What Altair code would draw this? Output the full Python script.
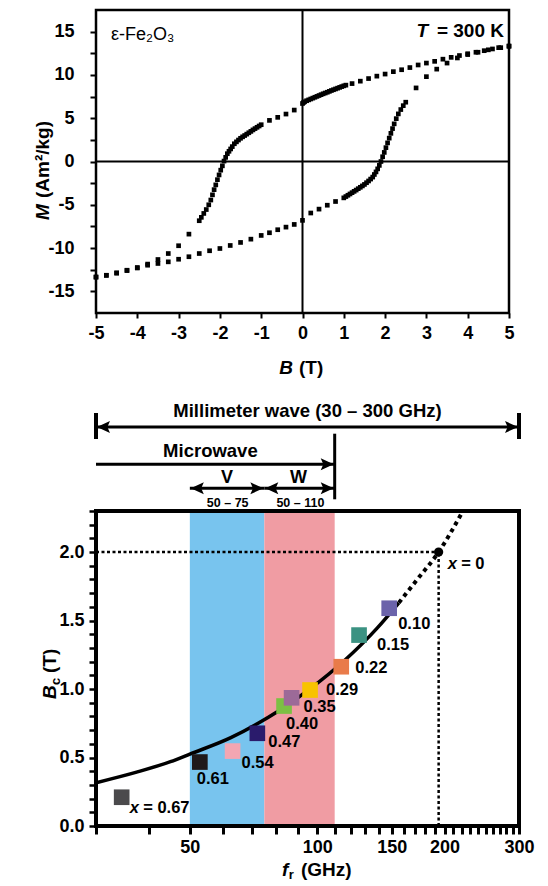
import altair as alt
import pandas as pd

FONT = "Liberation Sans"

# ---------------- top panel: hysteresis loop (B in T, M in Am2/kg) ----------------
# upper branch, field decreasing from +5 T to -5 T
UP_HI_B = [5.0, 4.8, 4.6, 4.4, 4.2, 4.0, 3.8, 3.6, 3.4, 3.2, 3.0, 2.8, 2.6, 2.4, 2.2, 2.0, 1.8, 1.6, 1.4, 1.2]
UP_HI_M = [13.3, 13.15, 13.0, 12.8, 12.62, 12.45, 12.24, 12.03, 11.82, 11.57, 11.37, 11.15, 10.85, 10.6,
           10.38, 10.1, 9.86, 9.58, 9.28, 9.0]
UP_MID_B = [1.05, 1.0, 0.95, 0.9, 0.85, 0.8, 0.75, 0.7, 0.65, 0.6, 0.55, 0.5, 0.45, 0.4, 0.35, 0.3, 0.25,
            0.2, 0.15, 0.1, 0.05, 0.02, 0.0, -0.2, -0.4, -0.6, -0.8]
UP_MID_M = [8.82, 8.74, 8.65, 8.56, 8.47, 8.38, 8.29, 8.2, 8.1, 8.0, 7.91, 7.82, 7.72, 7.62, 7.52, 7.42, 7.32,
            7.22, 7.12, 7.02, 6.9, 6.8, 6.7, 5.94, 5.48, 5.1, 4.75]
UP_SW_B = [-1.00, -1.05, -1.10, -1.15, -1.20, -1.25, -1.30, -1.35, -1.40, -1.45, -1.50, -1.55, -1.60, -1.65,
           -1.70, -1.74, -1.78, -1.82, -1.86, -1.90, -1.94, -1.98, -2.02, -2.06, -2.10, -2.14, -2.18, -2.22,
           -2.27, -2.33, -2.39, -2.45, -2.50]
UP_SW_M = [4.25, 4.10, 3.95, 3.80, 3.65, 3.48, 3.32, 3.16, 3.00, 2.85, 2.68, 2.48, 2.27, 2.05, 1.72, 1.45,
           1.18, 0.90, 0.48, 0.05, -0.50, -1.00, -1.55, -2.10, -2.70, -3.25, -3.85, -4.45, -5.00, -5.55,
           -6.00, -6.45, -6.84]
UP_LO_B = [-2.75, -3.0, -3.25, -3.5, -3.75, -4.0, -4.25, -4.5, -4.75, -5.0]
UP_LO_M = [-8.39, -9.73, -10.63, -11.32, -11.85, -12.3, -12.6, -12.9, -13.15, -13.35]

# lower branch, field increasing from -5 T to +5 T
LO_LO_B = [-5.0, -4.75, -4.5, -4.25, -4.0, -3.75, -3.5, -3.25, -3.0, -2.75, -2.5, -2.25, -2.0, -1.75, -1.5,
           -1.25, -1.0, -0.8, -0.6, -0.4, -0.2, 0.0, 0.2, 0.4, 0.6, 0.8]
LO_LO_M = [-13.35, -13.14, -12.86, -12.56, -12.25, -11.98, -11.78, -11.59, -11.29, -11.0, -10.63, -10.31,
           -10.05, -9.7, -9.35, -8.97, -8.54, -8.23, -7.88, -7.58, -7.27, -6.8, -5.95, -5.5, -5.05, -4.62]
LO_SW_B = [1.00, 1.05, 1.10, 1.15, 1.20, 1.25, 1.30, 1.35, 1.40, 1.45, 1.50, 1.55, 1.60, 1.65, 1.70, 1.74,
           1.78, 1.82, 1.86, 1.90, 1.94, 1.98, 2.02, 2.06, 2.10, 2.14, 2.18, 2.22, 2.27, 2.32, 2.38, 2.44, 2.50]
LO_SW_M = [-4.20, -4.05, -3.90, -3.75, -3.60, -3.45, -3.30, -3.14, -2.98, -2.82, -2.65, -2.45, -2.25, -2.03,
           -1.80, -1.50, -1.20, -0.85, -0.45, 0.00, 0.55, 1.05, 1.60, 2.15, 2.70, 3.25, 3.80, 4.35, 4.95,
           5.50, 6.00, 6.45, 6.85]
LO_HI_B = [2.75, 3.0, 3.25, 3.5, 3.75, 4.0, 4.25, 4.5, 4.75, 5.0]
LO_HI_M = [8.5, 9.8, 10.67, 11.37, 11.96, 12.35, 12.62, 12.9, 13.15, 13.35]

TOP_X_TICKS = [-5, -4, -3, -2, -1, 0, 1, 2, 3, 4, 5]
TOP_Y_TICKS = [-15, -12.5, -10, -7.5, -5, -2.5, 0, 2.5, 5, 7.5, 10, 12.5, 15]

# ---------------- bottom panel: coercive field vs resonance frequency ----------------
X_LABELS = ["x = 0.67", "0.61", "0.54", "0.47", "0.40", "0.35", "0.29", "0.22", "0.15", "0.10"]
SQ_F = [34.5, 52.8, 63.1, 72.2, 83.5, 87.0, 96.2, 114.0, 125.6, 148.0]
SQ_BC = [0.21, 0.467, 0.547, 0.677, 0.876, 0.936, 0.993, 1.163, 1.394, 1.59]
SQ_COLORS = ["#4b4a4c", "#1f1a1b", "#f3a6b2", "#2a1b6c", "#7cc043", "#9c6a98", "#f8c300", "#e97b4a",
             "#3b9282", "#6b63aa"]
X0_F, X0_BC = 193.7, 2.0      # x = 0 (pure epsilon-Fe2O3)

CURVE_F = [30, 37.6, 45, 50, 62.5, 72, 81, 96.5, 115.7, 138.6, 156]
CURVE_BC = [0.316, 0.395, 0.47, 0.525, 0.645, 0.745, 0.84, 1.005, 1.205, 1.445, 1.63]
EXTRA_F = [156, 172.4, 193.7, 221]
EXTRA_BC = [1.63, 1.8, 2.0, 2.3]

BAND_NAMES = ["V", "W"]
BAND_LO = [50, 75]
BAND_HI = [75, 110]
BAND_RANGE_TEXT = ["50 – 75", "50 – 110"]
BAND_COLORS = ["#78c4ee", "#f09ca3"]
MM_WAVE = [30, 300]
MICROWAVE = [30, 110]

BOT_X_TICKS = [30, 40, 50, 60, 70, 80, 90, 100, 110, 120, 130, 140, 150, 160, 170, 180, 190, 200,
               210, 220, 230, 240, 250, 260, 270, 280, 290, 300]
BOT_X_LABELED = [50, 100, 150, 200, 300]
BOT_Y_TICKS = [round(0.1 * i, 1) for i in range(24)]

# label placement (pixels, relative to marker centre)
LAB_DX = [21.5, -3, 9, 11, 2, 12, 16, 14, 18, 9]
LAB_DY = [11, 17, 12, 9, 18, 9, 0, 1, 10, 16]

W1, H1 = 413, 303
W2, H2 = 423, 315
ONE = pd.DataFrame({"a": [0]})


def ptext(txt, x, y, size, weight="bold", style="normal", align="center", angle=0):
    return alt.Chart(ONE).mark_text(
        text=txt, font=FONT, fontSize=size, fontWeight=weight, fontStyle=style,
        align=align, baseline="middle", angle=angle, color="black"
    ).encode(x=alt.value(x), y=alt.value(y))


def frame(w, h, sw):
    return alt.Chart(ONE).mark_rect(fillOpacity=0, stroke="black", strokeWidth=sw).encode(
        x=alt.value(0), x2=alt.value(w), y=alt.value(0), y2=alt.value(h))


# ---------------- top chart ----------------
xs1 = alt.Scale(domain=[-5, 5], nice=False, zero=False)
ys1 = alt.Scale(domain=[-17.5, 17.5], nice=False, zero=False)
xa1 = alt.Axis(values=TOP_X_TICKS, labelExpr="'' + datum.value", title=None, domain=False, grid=False,
               tickColor="black", tickWidth=2, tickSize=5, labelPadding=6, labelFont=FONT,
               labelFontSize=18, labelFontWeight="bold", labelColor="black", labelFlush=False,
               labelOverlap=False)
ya1 = alt.Axis(values=TOP_Y_TICKS, labelExpr="datum.value % 5 == 0 ? '' + datum.value : ''", title=None,
               domain=False, grid=False, tickColor="black", tickWidth=2, tickSize=6, labelPadding=16,
               labelFont=FONT, labelFontSize=18, labelFontWeight="bold", labelColor="black",
               labelOverlap=False)

top_df = pd.DataFrame({
    "B": UP_HI_B + UP_MID_B + UP_SW_B + UP_LO_B + LO_LO_B + LO_SW_B + LO_HI_B,
    "M": UP_HI_M + UP_MID_M + UP_SW_M + UP_LO_M + LO_LO_M + LO_SW_M + LO_HI_M,
})

pts = alt.Chart(top_df).mark_square(size=22, color="black", opacity=1).encode(
    x=alt.X("B:Q", scale=xs1, axis=xa1), y=alt.Y("M:Q", scale=ys1, axis=ya1))
zero_h = alt.Chart(pd.DataFrame({"M": [0]})).mark_rule(color="black", strokeWidth=2).encode(
    y=alt.Y("M:Q", scale=ys1, axis=ya1))
zero_v = alt.Chart(pd.DataFrame({"B": [0]})).mark_rule(color="black", strokeWidth=2).encode(
    x=alt.X("B:Q", scale=xs1, axis=xa1))

top = alt.layer(
    zero_h, zero_v, pts, frame(W1, H1, 2.5),
    ptext("ε-Fe₂O₃", 15, 25, 18, weight="normal", align="left"),
    ptext("= 300 K", 408, 21, 19, align="right"),
    ptext("T", 332, 21, 19, style="italic", align="right"),
    ptext("B", 197, 358, 19, style="italic", align="right"),
    ptext("(T)", 203, 358, 19, align="left"),
    ptext("M", -53, 210, 19, style="italic", align="left", angle=270),
    ptext("(Am²/kg)", -53, 188, 19, align="left", angle=270),
).properties(width=W1, height=H1)

# ---------------- bottom chart ----------------
xs2 = alt.Scale(type="log", domain=[30, 300], nice=False)
ys2 = alt.Scale(domain=[0, 2.3], nice=False, zero=False)
xa2 = alt.Axis(values=BOT_X_TICKS,
               labelExpr="indexof(" + str(BOT_X_LABELED) + ", datum.value) >= 0 ? '' + datum.value : ''",
               title=None, domain=False, grid=False, tickColor="black", tickWidth=3, tickSize=8,
               labelPadding=4, labelFont=FONT, labelFontSize=18, labelFontWeight="bold",
               labelColor="black", labelFlush=False, labelOverlap=False)
ya2 = alt.Axis(values=BOT_Y_TICKS,
               labelExpr="round(datum.value * 10) % 5 == 0 ? format(datum.value, '.1f') : ''",
               title=None, domain=False, grid=False, tickColor="black", tickWidth=2.5, tickSize=7,
               labelPadding=5, labelFont=FONT, labelFontSize=18, labelFontWeight="bold",
               labelColor="black", labelOverlap=False)


def X(field):
    return alt.X(field, type="quantitative", scale=xs2, axis=xa2)


def Y(field):
    return alt.Y(field, type="quantitative", scale=ys2, axis=ya2)


bands_df = pd.DataFrame({"lo": BAND_LO, "hi": BAND_HI, "c": BAND_COLORS})
bands = alt.Chart(bands_df).mark_rect(opacity=1).encode(
    x=X("lo"), x2="hi:Q", y=alt.value(0), y2=alt.value(H2), color=alt.Color("c:N", scale=None))

href = alt.Chart(pd.DataFrame({"f": [30], "f2": [X0_F], "bc": [X0_BC]})).mark_rule(
    color="black", strokeWidth=2.5, strokeDash=[3, 2.5]).encode(x=X("f"), x2="f2:Q", y=Y("bc"))
vref = alt.Chart(pd.DataFrame({"f": [X0_F], "bc": [0], "bc2": [X0_BC]})).mark_rule(
    color="black", strokeWidth=2.5, strokeDash=[3, 2.5]).encode(x=X("f"), y=Y("bc"), y2="bc2:Q")

curve = alt.Chart(pd.DataFrame({"f": CURVE_F, "bc": CURVE_BC})).mark_line(
    color="black", strokeWidth=3.5, interpolate="monotone", clip=True).encode(x=X("f"), y=Y("bc"))
extra = alt.Chart(pd.DataFrame({"f": EXTRA_F, "bc": EXTRA_BC})).mark_line(
    color="black", strokeWidth=4, strokeDash=[4, 4], interpolate="monotone", clip=True).encode(
    x=X("f"), y=Y("bc"))

sq_df = pd.DataFrame({"f": SQ_F, "bc": SQ_BC, "c": SQ_COLORS})
squares = alt.Chart(sq_df).mark_square(size=245, opacity=1).encode(
    x=X("f"), y=Y("bc"), color=alt.Color("c:N", scale=None))
x0pt = alt.Chart(pd.DataFrame({"f": [X0_F], "bc": [X0_BC]})).mark_circle(
    size=85, color="black", opacity=1).encode(x=X("f"), y=Y("bc"))

labels = []
for f, bc, txt, dx, dy in zip(SQ_F, SQ_BC, X_LABELS, LAB_DX, LAB_DY):
    d = pd.DataFrame({"f": [f], "bc": [bc]})
    if txt.startswith("x"):
        labels.append(alt.Chart(d).mark_text(text="x", font=FONT, fontSize=16.5, fontWeight="bold",
                                             fontStyle="italic", align="left", baseline="middle",
                                             dx=dx - 13.5, dy=dy, color="black").encode(x=X("f"), y=Y("bc")))
        txt = txt[2:]
    labels.append(alt.Chart(d).mark_text(text=txt, font=FONT, fontSize=16.5, fontWeight="bold",
                                         align="left", baseline="middle", dx=dx, dy=dy,
                                         color="black").encode(x=X("f"), y=Y("bc")))
d0 = pd.DataFrame({"f": [X0_F], "bc": [X0_BC]})
labels.append(alt.Chart(d0).mark_text(text="x", font=FONT, fontSize=16.5, fontWeight="bold",
                                      fontStyle="italic", align="left", baseline="middle", dx=9, dy=12,
                                      color="black").encode(x=X("f"), y=Y("bc")))
labels.append(alt.Chart(d0).mark_text(text="= 0", font=FONT, fontSize=16.5, fontWeight="bold",
                                      align="left", baseline="middle", dx=22.5, dy=12,
                                      color="black").encode(x=X("f"), y=Y("bc")))

# ---- annotation above the plot (arrows) ----
HEAD_R = "M-0.15,0L-2.15,-0.92L-1.75,0L-2.15,0.92Z"
HEAD_L = "M0.15,0L2.15,-0.92L1.75,0L2.15,0.92Z"


def hline(span, y, sw=3):
    return alt.Chart(pd.DataFrame({"f": [span[0]], "f2": [span[1]]})).mark_rule(
        color="black", strokeWidth=sw).encode(x=X("f"), x2="f2:Q", y=alt.value(y))


def vline(fv, y1, y2, sw=3):
    return alt.Chart(pd.DataFrame({"f": [fv]})).mark_rule(color="black", strokeWidth=sw).encode(
        x=X("f"), y=alt.value(y1), y2=alt.value(y2))


def head(fv, y, shape):
    return alt.Chart(pd.DataFrame({"f": [fv]})).mark_point(
        shape=shape, filled=True, size=169, color="black", opacity=1, strokeWidth=0).encode(
        x=X("f"), y=alt.value(y))


annot = [
    hline(MM_WAVE, -84), vline(MM_WAVE[0], -98, -72, 4), vline(MM_WAVE[1], -98, -72, 4),
    head(MM_WAVE[0], -84, HEAD_L), head(MM_WAVE[1], -84, HEAD_R),
    hline(MICROWAVE, -46.7), head(MICROWAVE[1], -46.7, HEAD_R), vline(MICROWAVE[1], -77.3, -11.7),
    hline([BAND_LO[0], BAND_HI[0]], -22.7), head(BAND_LO[0], -22.7, HEAD_L), head(BAND_HI[0], -22.7, HEAD_R),
    hline([BAND_LO[1], BAND_HI[1]], -22.7), head(BAND_LO[1], -22.7, HEAD_L), head(BAND_HI[1], -22.7, HEAD_R),
    ptext("Millimeter wave (30 – 300 GHz)", 211.5, -100, 18.5),
    ptext("Microwave", 114.4, -60, 18.5),
    ptext(BAND_NAMES[0], 131, -33.3, 18),
    ptext(BAND_NAMES[1], 202.4, -33.3, 18),
    ptext(BAND_RANGE_TEXT[0], 131.7, -8.3, 12.5),
    ptext(BAND_RANGE_TEXT[1], 204.4, -8.3, 12.5),
]

titles2 = [
    ptext("B", -45.8, 188, 19, style="italic", align="left", angle=270),
    ptext("c", -40.5, 174, 13, align="left", angle=270),
    ptext("(T)", -45.8, 162, 19, align="left", angle=270),
    ptext("f", 186, 359, 19, style="italic", align="left"),
    ptext("r", 192.8, 364, 13, align="left"),
    ptext("(GHz)", 205, 359, 19, align="left"),
]

bottom = alt.layer(
    bands, href, vref, curve, extra, squares, x0pt, *labels, *annot, *titles2, frame(W2, H2, 4)
).properties(width=W2, height=H2)

chart = alt.vconcat(top, bottom, spacing=24).properties(
    padding={"left": 26, "top": 0, "right": 5, "bottom": 0}, background="white"
).configure_view(strokeWidth=0)

chart.save("out.html", embed_options={"renderer": "svg", "actions": False})
